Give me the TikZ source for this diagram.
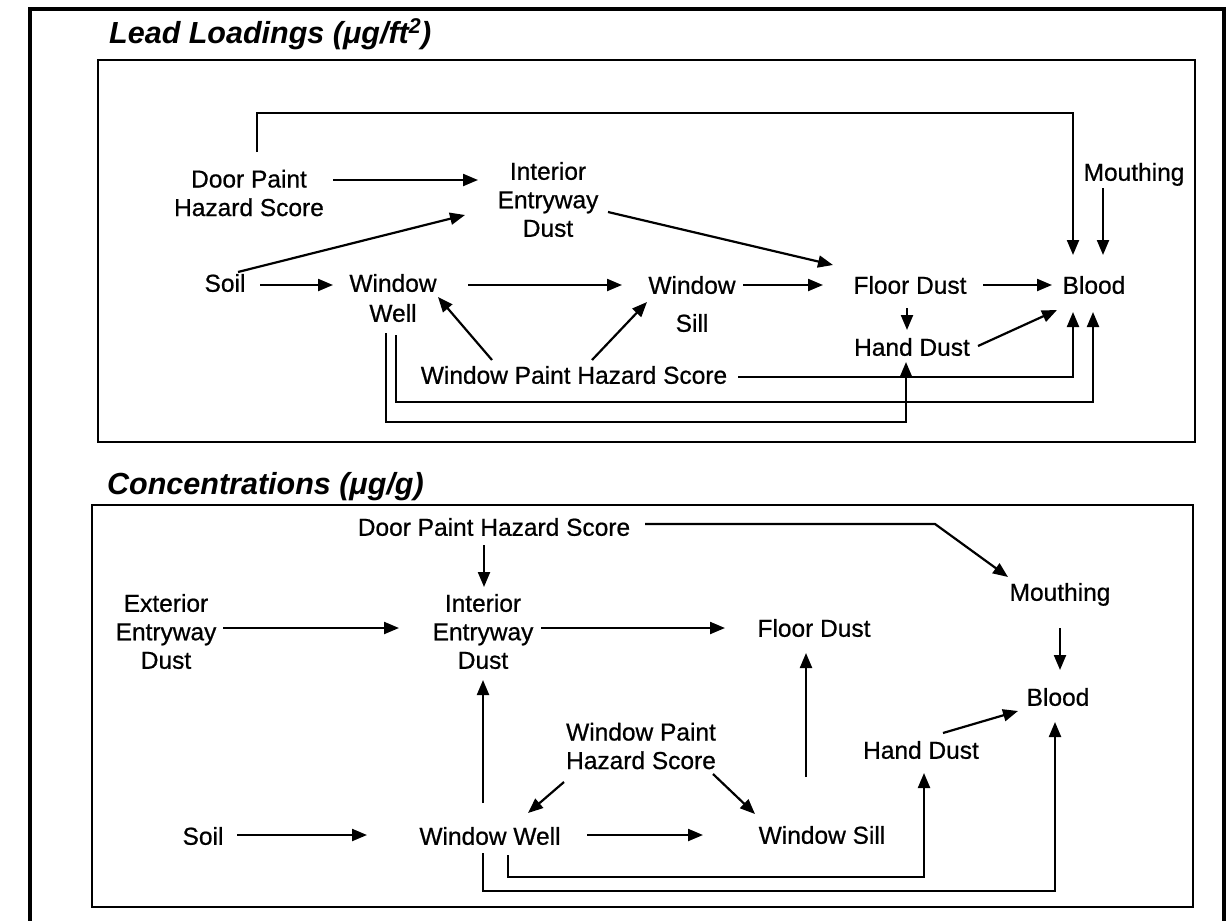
\documentclass[tikz,border=0pt]{standalone}
\usepackage{fontspec}
\setmainfont{Liberation Sans}
\newfontfamily\lblfont{Liberation Sans}[BoldFont=Liberation Sans, BoldFeatures={FakeBold=0.7}]
\usetikzlibrary{arrows.meta}
\begin{document}
\begin{tikzpicture}[x=1pt,y=-1pt,
  lbl/.style={inner sep=0pt, font=\lblfont\bfseries\fontsize{24.5}{28.5}\selectfont, text height=17.5pt, text depth=0pt},
  mlbl/.style={inner sep=0pt, font=\lblfont\bfseries\fontsize{24.5}{28.5}\selectfont, align=center},
  arr/.style={line width=2.2pt, -{Triangle[length=15pt,width=12pt]}},
  outerframe/.style={line width=3.2pt},
  panel/.style={line width=2.6pt},
  ttl/.style={inner sep=0pt, anchor=base west, font=\fontsize{30.5}{35}\selectfont\bfseries\itshape}]
\useasboundingbox (0,0) rectangle (1232,921);
% frames
\draw[outerframe] (30,925) -- (30,9) -- (1224,9) -- (1224,925);
\draw[panel] (98,60) rectangle (1195,442);
\draw[panel] (92,505) rectangle (1193,907);
% titles
\node[ttl] (title1) at (109,43) {Lead Loadings (μg/ft\textsuperscript{2})};
\node[ttl] (title2) at (107,494) {Concentrations (μg/g)};

% ---------- top panel ----------
\node[mlbl] (tDoor) at (249,193) {Door Paint\\Hazard Score};
\node[mlbl] (tInt) at (548,199.5) {Interior\\Entryway\\Dust};
\node[lbl] (tSoil) at (225,283) {Soil};
\node[mlbl] (tWW) at (393,298) {Window\\[1.5pt]Well};
\node[mlbl] (tWS) at (692,304) {Window\\[9.5pt]Sill};
\node[lbl] (tFloor) at (910,285) {Floor Dust};
\node[lbl] (tBlood) at (1094,285) {Blood};
\node[lbl] (tMouth) at (1134,172) {Mouthing};
\node[lbl] (tHand) at (912,347) {Hand Dust};
\node[lbl] (tWPHS) at (574,375) {Window Paint Hazard Score};

\draw[arr] ([shift={(84,-13)}]tDoor.center) -- ([shift={(-70,-19.5)}]tInt.center);
\draw[arr] ([shift={(13,-11)}]tSoil.center) -- ([shift={(-83,15.5)}]tInt.center);
\draw[arr] ([shift={(35,2)}]tSoil.center) -- ([shift={(-60,-13)}]tWW.center);
\draw[arr] ([shift={(75,-13)}]tWW.center) -- ([shift={(-70,-19)}]tWS.center);
\draw[arr] ([shift={(51,-19)}]tWS.center) -- ([shift={(-87,0)}]tFloor.center);
\draw[arr] ([shift={(60,12.5)}]tInt.center) -- ([shift={(-77,-20)}]tFloor.center);
\draw[arr] ([shift={(73,0)}]tFloor.center) -- ([shift={(-42,0)}]tBlood.center);
\draw[arr] ([shift={(-3,23)}]tFloor.center) -- ([shift={(-5,-17)}]tHand.center);
\draw[arr] ([shift={(66,-1)}]tHand.center) -- ([shift={(-37,25)}]tBlood.center);
\draw[arr] ([shift={(-82,-15)}]tWPHS.center) -- ([shift={(45,-1)}]tWW.center);
\draw[arr] ([shift={(18,-15)}]tWPHS.center) -- ([shift={(-45,-2)}]tWS.center);
\draw[arr] ([shift={(8,-41)}]tDoor.center) -- ++(0,-39) -| ([shift={(-21,-30)}]tBlood.center);
\draw[arr] ([shift={(-31,16)}]tMouth.center) -- ([shift={(9,-30)}]tBlood.center);
\draw[arr] ([shift={(164,2)}]tWPHS.center) -| ([shift={(-21,27)}]tBlood.center);
\draw[arr] ([shift={(3,37)}]tWW.center) -- ++(0,67) -| ([shift={(-1,27)}]tBlood.center);
\draw[arr] ([shift={(-7,35)}]tWW.center) -- ++(0,89) -| ([shift={(-6,15)}]tHand.center);

% ---------- bottom panel ----------
\node[lbl] (bDoor) at (494,527) {Door Paint Hazard Score};
\node[mlbl] (bExt) at (166,631.5) {Exterior\\Entryway\\Dust};
\node[mlbl] (bInt) at (483,631.5) {Interior\\Entryway\\Dust};
\node[lbl] (bFloor) at (814,628) {Floor Dust};
\node[lbl] (bMouth) at (1060,592) {Mouthing};
\node[lbl] (bBlood) at (1058,697) {Blood};
\node[mlbl] (bWPHS) at (641,746) {Window Paint\\Hazard Score};
\node[lbl] (bHand) at (921,750) {Hand Dust};
\node[lbl] (bSoil) at (203,836) {Soil};
\node[lbl] (bWW) at (490,836) {Window Well};
\node[lbl] (bWS) at (822,835) {Window Sill};

\draw[arr] ([shift={(-10,18)}]bDoor.center) -- ([shift={(1,-44.5)}]bInt.center);
\draw[arr] ([shift={(57,-3.5)}]bExt.center) -- ([shift={(-84,-3.5)}]bInt.center);
\draw[arr] ([shift={(58,-3.5)}]bInt.center) -- ([shift={(-89,0)}]bFloor.center);
\draw[arr] ([shift={(151,-3)}]bDoor.center) -- ++(290,0) -- ([shift={(-52,-15)}]bMouth.center);
\draw[arr] ([shift={(0,36)}]bMouth.center) -- ([shift={(2,-27)}]bBlood.center);
\draw[arr] ([shift={(22,-17)}]bHand.center) -- ([shift={(-40,14)}]bBlood.center);
\draw[arr] ([shift={(-7,-33)}]bWW.center) -- ([shift={(0,48.5)}]bInt.center);
\draw[arr] ([shift={(34,-1)}]bSoil.center) -- ([shift={(-123,-1)}]bWW.center);
\draw[arr] ([shift={(97,-1)}]bWW.center) -- ([shift={(-119,0)}]bWS.center);
\draw[arr] ([shift={(-77,36)}]bWPHS.center) -- ([shift={(38,-23)}]bWW.center);
\draw[arr] ([shift={(72,28)}]bWPHS.center) -- ([shift={(-67,-21)}]bWS.center);
\draw[arr] ([shift={(-16,-58)}]bWS.center) -- ([shift={(-8,25)}]bFloor.center);
\draw[arr] ([shift={(18,19)}]bWW.center) -- ++(0,22) -| ([shift={(3,23)}]bHand.center);
\draw[arr] ([shift={(-7,17)}]bWW.center) -- ++(0,38) -| ([shift={(-3,25)}]bBlood.center);
\end{tikzpicture}
\end{document}
